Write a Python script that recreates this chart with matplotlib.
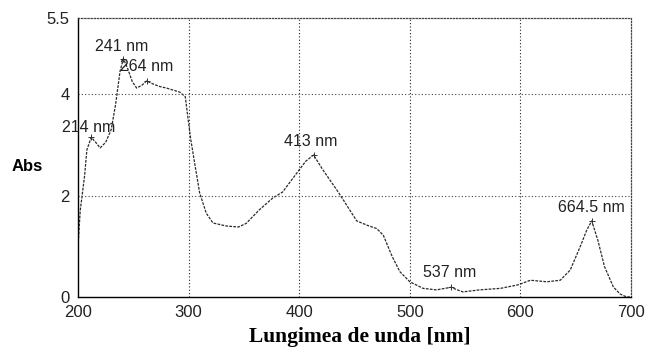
import matplotlib.pyplot as plt

# wavelength (nm) and absorbance
wavelength = [200, 202, 206, 208, 212, 216, 220, 225, 230, 234, 238, 241, 245, 249,
              253, 258, 262, 268, 274, 280, 286, 292, 297, 299, 302, 305, 310, 316,
              322, 334, 345, 352, 364, 376, 385, 398, 406, 413, 421, 434, 440, 452,
              462, 470, 476, 484, 491, 500, 512, 524, 537, 548, 563, 582, 598, 609,
              624, 636, 645, 654, 660, 664.5, 670, 676, 684, 690, 696, 700]
absorbance = [1.0, 1.7, 2.4, 2.9, 3.15, 3.05, 2.94, 3.05, 3.3, 3.8, 4.45, 4.7, 4.5, 4.25,
              4.12, 4.18, 4.26, 4.2, 4.15, 4.12, 4.08, 4.04, 3.95, 3.6, 3.1, 2.7, 2.05, 1.65,
              1.46, 1.40, 1.38, 1.45, 1.72, 1.95, 2.07, 2.45, 2.68, 2.8, 2.52, 2.11, 1.91, 1.50,
              1.41, 1.35, 1.22, 0.80, 0.50, 0.30, 0.17, 0.14, 0.19, 0.10, 0.14, 0.17, 0.24, 0.33,
              0.30, 0.33, 0.53, 0.99, 1.32, 1.50, 1.12, 0.60, 0.20, 0.06, 0.0, 0.0]

peak_labels = ["241 nm", "264 nm", "214 nm", "413 nm", "537 nm", "664.5 nm"]
peak_x = [241, 262, 212, 413, 537, 664.5]
peak_y = [4.7, 4.26, 3.15, 2.8, 0.19, 1.50]
label_x = [239.8, 262.4, 210, 410.7, 536.3, 663.8]
label_y = [4.93, 4.54, 3.35, 3.06, 0.49, 1.76]

x_ticks = [200, 300, 400, 500, 600, 700]
y_ticks = [0, 2, 4, 5.5]
y_tick_labels = ["0", "2", "4", "5.5"]

sans = "Liberation Sans"

fig = plt.figure(figsize=(6.49, 3.48), dpi=100)
ax = fig.add_axes([0.1202, 0.1466, 0.8521, 0.8014])

ax.plot(wavelength, absorbance, color="#2a2a2a", lw=0.9, ls=(0, (2.2, 1)))
ax.plot(peak_x, peak_y, ls="none", marker="+", ms=5, mew=0.7, color="#333333")

for txt, lx, ly in zip(peak_labels, label_x, label_y):
    ax.text(lx, ly, txt, ha="center", va="center", fontsize=11.5,
            family=sans, color="#222222")

ax.set_xlim(200, 700)
ax.set_ylim(0, 5.5)
ax.set_xticks(x_ticks)
ax.set_yticks(y_ticks)
ax.set_yticklabels(y_tick_labels)
ax.tick_params(length=0, labelsize=12, colors="#222222", pad=6)
for lab in ax.get_xticklabels() + ax.get_yticklabels():
    lab.set_family(sans)

# dotted grid like the scanned original
for gx in [300, 400, 500, 600]:
    ax.axvline(gx, color="#222222", lw=0.8, ls=(0, (1, 2)))
for gy in [2, 4]:
    ax.axhline(gy, color="#444444", lw=0.8, ls=(0, (1, 2)))

ax.spines["left"].set_linewidth(1.0)
ax.spines["bottom"].set_linewidth(1.0)
ax.spines["bottom"].set_linestyle((0, (1, 1)))
for side in ["top", "right"]:
    ax.spines[side].set_linewidth(0.9)
    ax.spines[side].set_linestyle((0, (1, 1.5)))
    ax.spines[side].set_color("#444444")

fig.text(27 / 649, 1 - 167 / 348, "Abs", ha="center", va="center",
         fontsize=12, fontweight="bold", family=sans)
fig.text(360 / 649, 1 - 337 / 348, "Lungimea de unda [nm]", ha="center",
         va="center", fontsize=15.5, fontweight="bold", family="Liberation Serif")

fig.savefig("out.png", dpi=100)
